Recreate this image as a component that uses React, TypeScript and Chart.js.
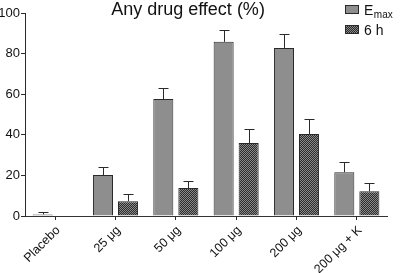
import React, { useEffect, useRef } from "react";
import { Chart, registerables } from "chart.js";

Chart.register(...registerables);

const categories = ["Placebo", "25 μg", "50 μg", "100 μg", "200 μg", "200 μg + K"];
const emaxValues = [0.8, 20.2, 57.6, 85.8, 82.8, 21.6];
const emaxErrors = [1.0, 3.8, 5.4, 5.8, 6.8, 5.0];
const sixHValues = [0, 7.3, 13.8, 35.9, 40.4, 12.2];
const sixHErrors = [0, 3.5, 3.4, 7.2, 7.2, 4.0];
const yTicks = [0, 20, 40, 60, 80, 100];
const titleText = "Any drug effect (%)";

const FONT = "'Liberation Sans', Arial, sans-serif";
const EMAX_FILL = "#8e8e8e";
const BORDER = "#2a2a2a";

function makePattern(): CanvasPattern | string {
  const c = document.createElement("canvas");
  c.width = 2;
  c.height = 2;
  const g = c.getContext("2d");
  if (!g) return "#444";
  g.fillStyle = "#2b2b2b";
  g.fillRect(0, 0, 2, 2);
  g.fillStyle = "#8a8a8a";
  g.fillRect(0, 0, 1, 1);
  g.fillRect(1, 1, 1, 1);
  const p = g.createPattern(c, "repeat");
  return p || "#444";
}

const errorBarPlugin = {
  id: "errorBars",
  afterDatasetsDraw(chart: any) {
    const ctx = chart.ctx;
    const yScale = chart.scales.y;
    const errs = [emaxErrors, sixHErrors];
    ctx.save();
    ctx.strokeStyle = BORDER;
    ctx.lineWidth = 1;
    chart.data.datasets.forEach((ds: any, di: number) => {
      const meta = chart.getDatasetMeta(di);
      meta.data.forEach((bar: any, i: number) => {
        const e = errs[di][i];
        if (!e) return;
        const v = ds.data[i];
        const x = Math.round(bar.x) + 0.5;
        const yTop = yScale.getPixelForValue(v + e);
        const yBase = yScale.getPixelForValue(v);
        ctx.beginPath();
        ctx.moveTo(x, yBase);
        ctx.lineTo(x, Math.round(yTop) + 0.5);
        ctx.moveTo(x - 5, Math.round(yTop) + 0.5);
        ctx.lineTo(x + 5, Math.round(yTop) + 0.5);
        ctx.stroke();
      });
    });
    ctx.restore();
  },
};

const titleLegendPlugin = {
  id: "titleLegend",
  afterDraw(chart: any) {
    const ctx = chart.ctx;
    ctx.save();
    ctx.fillStyle = "#111";
    ctx.font = `18px ${FONT}`;
    ctx.textAlign = "center";
    ctx.textBaseline = "alphabetic";
    ctx.fillText(titleText, 188, 15);

    // legend
    const bx = 345;
    const bw = 14;
    const bh = 9;
    ctx.lineWidth = 1;
    ctx.strokeStyle = BORDER;
    ctx.fillStyle = EMAX_FILL;
    ctx.fillRect(bx, 5, bw, bh);
    ctx.strokeRect(bx + 0.5, 5.5, bw - 1, bh - 1);
    ctx.fillStyle = chart.data.datasets[1].backgroundColor;
    ctx.fillRect(bx, 25, bw, bh);
    ctx.strokeRect(bx + 0.5, 25.5, bw - 1, bh - 1);

    ctx.fillStyle = "#111";
    ctx.textAlign = "left";
    ctx.font = `14px ${FONT}`;
    ctx.fillText("E", 364, 15);
    const ew = ctx.measureText("E").width;
    ctx.font = `10px ${FONT}`;
    ctx.fillText("max", 364 + ew + 0.5, 18);
    ctx.font = `14px ${FONT}`;
    ctx.fillText("6 h", 364, 35);
    ctx.restore();
  },
};

export default function App() {
  const ref = useRef<HTMLCanvasElement | null>(null);

  useEffect(() => {
    if (!ref.current) return;
    const pattern = makePattern();
    const chart = new Chart(ref.current, {
      type: "bar",
      data: {
        labels: categories,
        datasets: [
          {
            label: "Emax",
            data: emaxValues,
            backgroundColor: EMAX_FILL,
            borderColor: BORDER,
            borderWidth: 1,
            categoryPercentage: 0.83,
            barPercentage: 0.8,
          },
          {
            label: "6 h",
            data: sixHValues,
            backgroundColor: pattern as any,
            borderColor: BORDER,
            borderWidth: 1,
            categoryPercentage: 0.83,
            barPercentage: 0.8,
          },
        ],
      },
      options: {
        animation: false,
        responsive: false,
        devicePixelRatio: 1,
        layout: { padding: { top: 13, right: 13, left: 0, bottom: 0 } },
        plugins: {
          legend: { display: false },
          title: { display: false },
          tooltip: { enabled: false },
        },
        scales: {
          x: {
            grid: {
              display: true,
              drawOnChartArea: false,
              drawTicks: true,
              tickLength: 4,
              offset: false,
              color: BORDER,
            },
            border: { display: true, color: "#333", dash: [2, 2], width: 1 },
            ticks: {
              color: "#111",
              font: { family: FONT, size: 12.5 },
              maxRotation: 45,
              minRotation: 45,
              autoSkip: false,
              padding: 3,
              labelOffset: 3,
            },
            afterFit(scale: any) {
              scale.height = 57;
            },
          },
          y: {
            min: 0,
            max: 100,
            afterBuildTicks(scale: any) {
              scale.ticks = yTicks.map((v) => ({ value: v }));
            },
            grid: {
              display: true,
              drawOnChartArea: false,
              drawTicks: true,
              tickLength: 4,
              color: BORDER,
            },
            border: { display: true, color: BORDER, width: 1 },
            ticks: {
              color: "#111",
              font: { family: FONT, size: 13 },
              padding: 1,
            },
            afterFit(scale: any) {
              scale.width = 25;
            },
          },
        },
      },
      plugins: [errorBarPlugin, titleLegendPlugin],
    });
    return () => chart.destroy();
  }, []);

  return (
    <div style={{ position: "fixed", left: 0, top: 0, width: 400, height: 273, background: "#fff" }}>
      <canvas ref={ref} width={400} height={273} style={{ width: 400, height: 273 }} />
    </div>
  );
}
